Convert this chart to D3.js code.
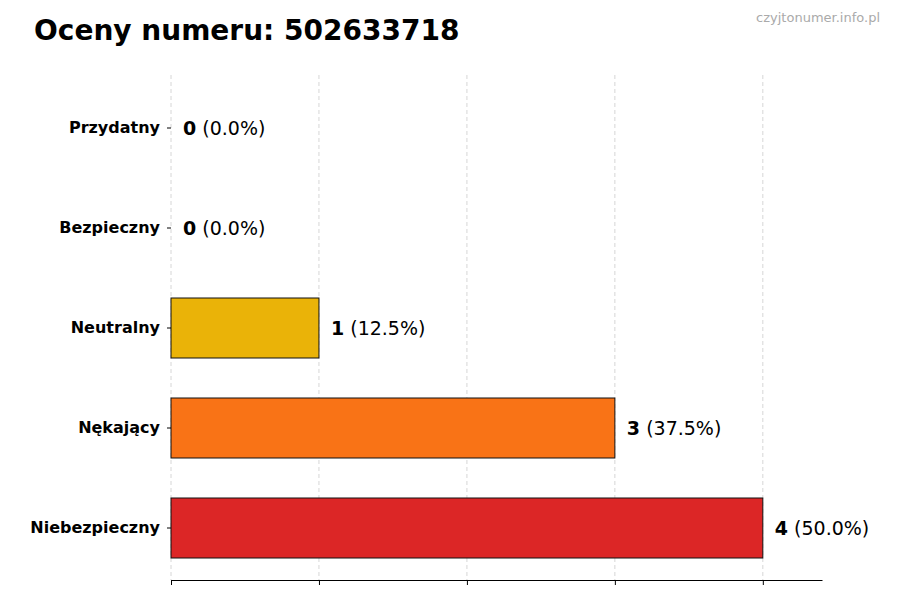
<!DOCTYPE html><html><head><meta charset="utf-8"><script src="https://cdn.jsdelivr.net/npm/d3@7"></script>
<style>body{margin:0;background:#fff}</style></head><body><svg width="900" height="600"></svg><script>
const categories=["Przydatny","Bezpieczny","Neutralny","Nękający","Niebezpieczny"];
const values=[0,0,1,3,4];
const percents=["0.0%","0.0%","12.5%","37.5%","50.0%"];
const colors=["#2ca02c","#1f77b4","#EAB308","#F97316","#DC2626"];
const xTicks=[0,1,2,3,4];
const svg=d3.select("svg");
const x=d3.scaleLinear().domain([0,4.4]).range([171,822]);
const y=d3.scaleBand().domain(categories).range([78,578]).paddingInner(0.4).paddingOuter(0.2);
svg.append("text").attr("x",34).attr("y",40).attr("font-family","DejaVu Sans").attr("font-weight","bold").attr("font-size",28).text("Oceny numeru: 502633718");
svg.append("text").attr("x",880).attr("y",22).attr("text-anchor","end").attr("font-family","DejaVu Sans").attr("font-size",13).attr("fill","#aaa").text("czyjtonumer.info.pl");
svg.selectAll(".g").data(xTicks).join("line").attr("x1",d=>x(d)).attr("x2",d=>x(d)).attr("y1",75).attr("y2",580).attr("stroke","#ccc").attr("stroke-dasharray","4,3").attr("stroke-width",0.8);
svg.selectAll(".b").data(categories).join("rect").attr("x",x(0)).attr("y",d=>y(d)).attr("height",y.bandwidth()).attr("width",(d,i)=>x(values[i])-x(0)).attr("fill",(d,i)=>colors[i]).attr("stroke","#111").attr("stroke-width",1);
const xa=svg.append("g").attr("transform","translate(0,580)").call(d3.axisBottom(x).tickValues(xTicks).tickFormat("").tickSize(5).tickSizeOuter(0));
xa.select(".domain").attr("stroke","#000");
const ya=svg.append("g").attr("transform","translate(171,0)").call(d3.axisLeft(y).tickSize(4).tickPadding(7));
ya.select(".domain").remove();
ya.selectAll("text").attr("font-family","DejaVu Sans").attr("font-weight","bold").attr("font-size",16).attr("fill","#000");
const lab=svg.selectAll(".l").data(categories).join("text").attr("x",(d,i)=>x(values[i])+12).attr("y",d=>y(d)+y.bandwidth()/2+7).attr("font-family","DejaVu Sans").attr("font-size",19);
lab.append("tspan").attr("font-weight","bold").text((d,i)=>values[i]);
lab.append("tspan").text((d,i)=>" ("+percents[i]+")");
</script></body></html>
